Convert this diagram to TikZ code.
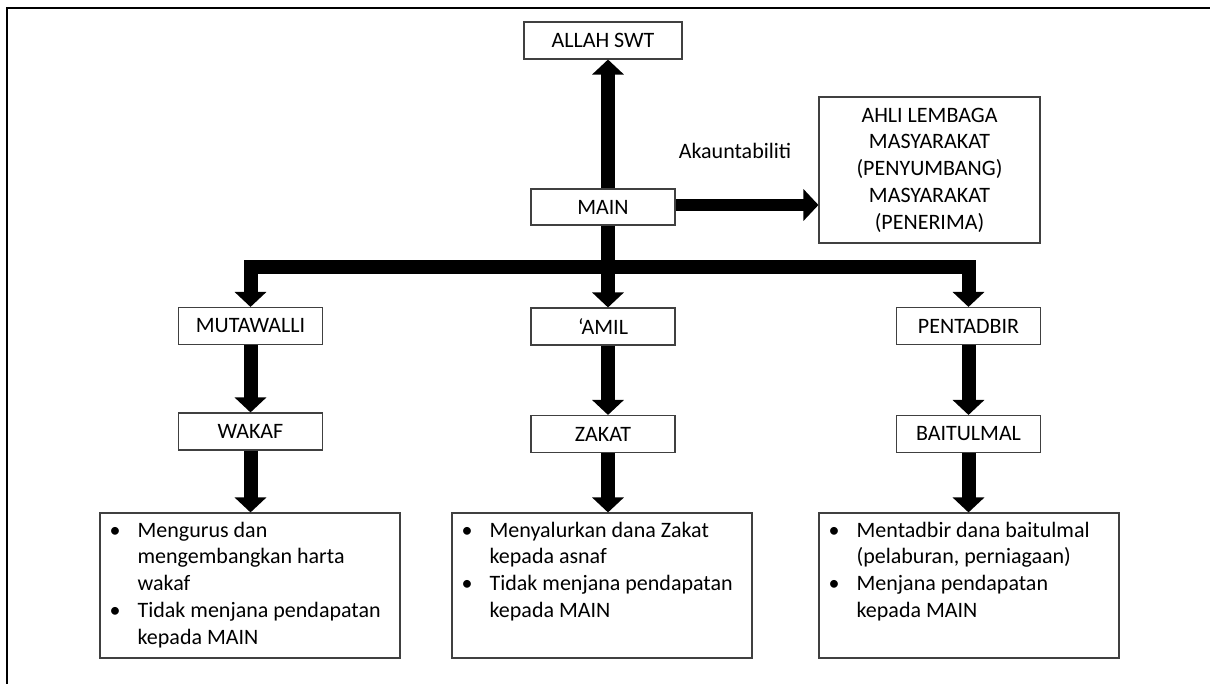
\documentclass[tikz,border=0pt]{standalone}
\usepackage{fontspec}
\setmainfont{Carlito}
\usetikzlibrary{arrows.meta}
\definecolor{boxgray}{RGB}{64,64,64}
\newcommand\diagfont{\fontsize{22}{26.8}\selectfont}
\begin{document}
\begin{tikzpicture}[x=1pt,y=-1pt,
  box/.style={draw=boxgray, line width=1.1pt, fill=white, inner sep=0pt, align=center, font=\diagfont},
  small/.style={box, minimum width=144pt, minimum height=37pt},
  big/.style={draw=boxgray, line width=1.1pt, fill=white, minimum width=300pt, minimum height=145pt, inner sep=0pt},
  listtext/.style={anchor=north west, inner sep=0pt, font=\diagfont, align=left},
  fat/.style={line width=14pt, draw=black, line join=miter, -{Triangle[width=31pt,length=15pt]}}
]
\useasboundingbox (0,0) rectangle (1210,684);
\fill[white] (0,0) rectangle (1210,684);
% frame
\draw[line width=2pt] (6.5,684) -- (6.5,8) -- (1210,8);

% nodes
\node[box, minimum width=158pt, minimum height=37pt] (allah) at (603,40.5) {ALLAH SWT};
\node[box, minimum width=144pt, minimum height=36pt] (main) at (603,207) {MAIN};
\node[box, minimum width=221pt, minimum height=146pt] (ahli) at (929.5,170) {AHLI LEMBAGA\\MASYARAKAT\\(PENYUMBANG)\\MASYARAKAT\\(PENERIMA)};
\node[font=\diagfont, inner sep=0pt] (akaun) at (735,151) {Akauntabiliti};

\node[small] (mut) at (250.5,326) {MUTAWALLI};
\node[small] (amil) at (603,326.5) {‘AMIL};
\node[small] (pent) at (968.5,326) {PENTADBIR};
\node[small] (wakaf) at (250.5,431.5) {WAKAF};
\node[small] (zakat) at (603,434) {ZAKAT};
\node[small] (baitul) at (968.5,434) {BAITULMAL};

\node[big] (b1) at (250,585.5) {};
\node[big] (b2) at (602,585.5) {};
\node[big] (b3) at (969,585.5) {};

\node[listtext] (t1) at ([xshift=10pt,yshift=-5.7pt]b1.north west) {%
  \begin{tabular}{@{}p{28pt}@{}l@{}}
  \textbullet & Mengurus dan\\
   & mengembangkan harta\\
   & wakaf\\
  \textbullet & Tidak menjana pendapatan\\
   & kepada MAIN
  \end{tabular}};
\node[listtext] (t2) at ([xshift=10pt,yshift=-5.7pt]b2.north west) {%
  \begin{tabular}{@{}p{28pt}@{}l@{}}
  \textbullet & Menyalurkan dana Zakat\\
   & kepada asnaf\\
  \textbullet & Tidak menjana pendapatan\\
   & kepada MAIN
  \end{tabular}};
\node[listtext] (t3) at ([xshift=10pt,yshift=-5.7pt]b3.north west) {%
  \begin{tabular}{@{}p{28pt}@{}l@{}}
  \textbullet & Mentadbir dana baitulmal\\
   & (pelaburan, perniagaan)\\
  \textbullet & Menjana pendapatan\\
   & kepada MAIN
  \end{tabular}};

% connectors
\coordinate (jn) at (608,267);
\draw[fat] ([xshift=5pt]main.north) -- ([xshift=5pt]allah.south);
\draw[fat, line width=12pt] ([yshift=2pt]main.east) -- ([yshift=2pt]main.east -| ahli.west);
\draw[fat] ([xshift=5pt]main.south) -- ([xshift=5pt]amil.north);
\draw[fat] (jn) -| (mut.north);
\draw[fat] (jn) -| (pent.north);
\draw[fat] (mut.south) -- (wakaf.north);
\draw[fat] ([xshift=5pt]amil.south) -- ([xshift=5pt]zakat.north);
\draw[fat] (pent.south) -- (baitul.north);
\draw[fat] (wakaf.south) -- (wakaf.south |- b1.north);
\draw[fat] ([xshift=5pt]zakat.south) -- ([xshift=5pt]zakat.south |- b2.north);
\draw[fat] (baitul.south) -- (baitul.south |- b3.north);
\end{tikzpicture}
\end{document}
